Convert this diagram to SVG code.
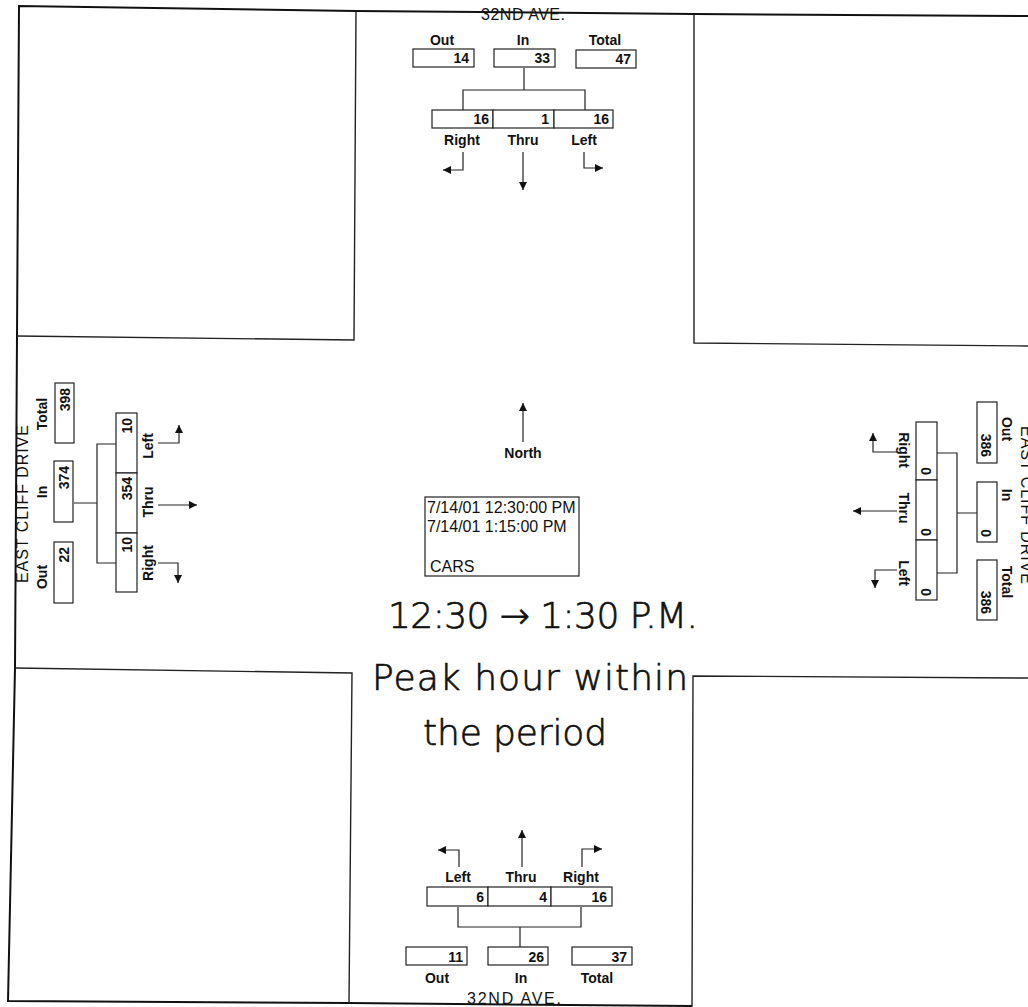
<svg xmlns="http://www.w3.org/2000/svg" width="1028" height="1007" viewBox="0 0 1028 1007">
<defs>
<marker id="ah" markerUnits="userSpaceOnUse" markerWidth="9" markerHeight="9" refX="8" refY="4" orient="auto">
<path d="M0,0 L8,4 L0,8 z" fill="#111"/>
</marker>
<style>
.frame{fill:none;stroke:#111;stroke-width:2}
.blk{fill:none;stroke:#222;stroke-width:1.4}
.box{fill:#fff;stroke:#222;stroke-width:1.2}
.ln{fill:none;stroke:#222;stroke-width:1.2}
.arr{fill:none;stroke:#222;stroke-width:1.2;marker-end:url(#ah)}
.lbl{font-family:"Liberation Sans",Arial,sans-serif;font-weight:bold;font-size:14px;fill:#111;text-anchor:middle}
.val{font-family:"Liberation Sans",Arial,sans-serif;font-weight:bold;font-size:14px;fill:#111;text-anchor:end}
.st{font-family:"Liberation Sans",Arial,sans-serif;font-size:16px;fill:#111;text-anchor:middle}
.info{font-family:"Liberation Sans",Arial,sans-serif;font-size:16px;fill:#111}
.hw{font-family:"DejaVu Sans",sans-serif;font-weight:200;font-size:36px;fill:#111;stroke:#111;stroke-width:0.7}
</style>
</defs>
<rect width="1028" height="1007" fill="#fff"/>
<g id="frame">
<polyline class="frame" points="1028,16 694,14 356,11 19,6 17,336 15,668 8,1001 349,1003 692,1006"/>
<polyline class="blk" points="356,11 354,340 17,336"/>
<polyline class="blk" points="694,14 694,343 1028,346"/>
<polyline class="blk" points="15,668 352,673 349,1003"/>
<polyline class="blk" points="1028,678 693,676 692,1007"/>
</g>
<g id="connectors">
<path class="ln" d="M524,68 V90 M463,110 V90 H585 V110"/>
<path class="ln" d="M458,907 V927 H581 V907 M520,927 V947"/>
<path class="ln" d="M74,503 H97 M116,444 H97 V563 H116"/>
<path class="ln" d="M977,513 H957 M937,453 H957 V573 H937"/>
<path class="arr" d="M463,152 V170 H443"/>
<path class="arr" d="M523,152 V190"/>
<path class="arr" d="M584,152 V168 H603"/>
<path class="arr" d="M459,867 V850 H438"/>
<path class="arr" d="M522,867 V830"/>
<path class="arr" d="M582,867 V849 H602"/>
<path class="arr" d="M158,443 H179 V425"/>
<path class="arr" d="M158,505 H197"/>
<path class="arr" d="M158,563 H178 V583"/>
<path class="arr" d="M897,452 H873 V433"/>
<path class="arr" d="M897,511 H853"/>
<path class="arr" d="M897,570 H875 V588"/>
<path class="arr" d="M523,442 V403"/>
</g>
<g id="north-approach">
<text class="st" x="523" y="20" textLength="84">32ND AVE.</text>
<text class="lbl" x="442" y="45">Out</text>
<text class="lbl" x="523" y="45">In</text>
<text class="lbl" x="605" y="45">Total</text>
<rect class="box" x="413" y="49" width="61" height="18"/>
<rect class="box" x="494" y="49" width="61" height="18"/>
<rect class="box" x="576" y="50" width="60" height="18"/>
<text class="val" x="469" y="63">14</text>
<text class="val" x="550" y="63">33</text>
<text class="val" x="631" y="64">47</text>
<rect class="box" x="432" y="110" width="61" height="18"/>
<rect class="box" x="493" y="110" width="61" height="18"/>
<rect class="box" x="554" y="110" width="59" height="18"/>
<text class="val" x="489" y="124">16</text>
<text class="val" x="549" y="124">1</text>
<text class="val" x="609" y="124">16</text>
<text class="lbl" x="462" y="145">Right</text>
<text class="lbl" x="523" y="145">Thru</text>
<text class="lbl" x="584" y="145">Left</text>
</g>
<g id="south-approach">
<text class="lbl" x="458" y="882">Left</text>
<text class="lbl" x="521" y="882">Thru</text>
<text class="lbl" x="581" y="882">Right</text>
<rect class="box" x="427" y="887" width="61" height="19"/>
<rect class="box" x="488" y="887" width="63" height="19"/>
<rect class="box" x="551" y="887" width="61" height="19"/>
<text class="val" x="484" y="902">6</text>
<text class="val" x="547" y="902">4</text>
<text class="val" x="607" y="902">16</text>
<rect class="box" x="406" y="947" width="61" height="18"/>
<rect class="box" x="488" y="947" width="60" height="18"/>
<rect class="box" x="572" y="947" width="60" height="18"/>
<text class="val" x="463" y="962">11</text>
<text class="val" x="544" y="962">26</text>
<text class="val" x="627" y="962">37</text>
<text class="lbl" x="437" y="983">Out</text>
<text class="lbl" x="521" y="983">In</text>
<text class="lbl" x="597" y="983">Total</text>
<text class="st" x="514" y="1004" textLength="94">32ND AVE.</text>
</g>
<g id="west-approach">
<text class="st" transform="translate(28,504) rotate(-90)" textLength="158">EAST CLIFF DRIVE</text>
<text class="lbl" transform="translate(47,577) rotate(-90)">Out</text>
<text class="lbl" transform="translate(47,492) rotate(-90)">In</text>
<text class="lbl" transform="translate(47,414) rotate(-90)">Total</text>
<rect class="box" x="54" y="542" width="19" height="61"/>
<rect class="box" x="54" y="461" width="19" height="61"/>
<rect class="box" x="55" y="383" width="19" height="60"/>
<text class="val" transform="translate(69,547) rotate(-90)">22</text>
<text class="val" transform="translate(69,466) rotate(-90)">374</text>
<text class="val" transform="translate(70,388) rotate(-90)">398</text>
<rect class="box" x="116" y="413" width="21" height="60"/>
<rect class="box" x="116" y="473" width="21" height="60"/>
<rect class="box" x="116" y="533" width="21" height="59"/>
<text class="val" transform="translate(132,418) rotate(-90)">10</text>
<text class="val" transform="translate(132,477) rotate(-90)">354</text>
<text class="val" transform="translate(132,537) rotate(-90)">10</text>
<text class="lbl" transform="translate(153,446) rotate(-90)">Left</text>
<text class="lbl" transform="translate(153,502) rotate(-90)">Thru</text>
<text class="lbl" transform="translate(153,563) rotate(-90)">Right</text>
</g>
<g id="east-approach">
<text class="st" transform="translate(1021,505) rotate(90)" textLength="158">EAST CLIFF DRIVE</text>
<text class="lbl" transform="translate(1002,429) rotate(90)">Out</text>
<text class="lbl" transform="translate(1002,495) rotate(90)">In</text>
<text class="lbl" transform="translate(1002,582) rotate(90)">Total</text>
<rect class="box" x="977" y="402" width="20" height="61"/>
<rect class="box" x="977" y="482" width="20" height="60"/>
<rect class="box" x="977" y="560" width="20" height="60"/>
<text class="val" transform="translate(981,457) rotate(90)">386</text>
<text class="val" transform="translate(981,537) rotate(90)">0</text>
<text class="val" transform="translate(981,614) rotate(90)">386</text>
<rect class="box" x="916" y="422" width="21" height="58"/>
<rect class="box" x="916" y="480" width="21" height="60"/>
<rect class="box" x="916" y="540" width="21" height="60"/>
<text class="val" transform="translate(921,475) rotate(90)">0</text>
<text class="val" transform="translate(921,536) rotate(90)">0</text>
<text class="val" transform="translate(921,596) rotate(90)">0</text>
<text class="lbl" transform="translate(899,450) rotate(90)">Right</text>
<text class="lbl" transform="translate(899,508) rotate(90)">Thru</text>
<text class="lbl" transform="translate(899,573) rotate(90)">Left</text>
</g>
<g id="north-indicator">
<text class="lbl" x="523" y="458">North</text>
</g>
<g id="info-box">
<rect class="box" x="425" y="497" width="154" height="79"/>
<text class="info" x="427" y="513">7/14/01 12:30:00 PM</text>
<text class="info" x="427" y="532">7/14/01 1:15:00 PM</text>
<text class="info" x="430" y="572">CARS</text>
</g>
<g id="handwritten-note">
<text class="hw" x="388" y="628" textLength="310">12:30 → 1:30 P.M.</text>
<text class="hw" x="372" y="690" textLength="316">Peak hour within</text>
<text class="hw" x="423" y="745" textLength="184">the period</text>
</g>
</svg>
